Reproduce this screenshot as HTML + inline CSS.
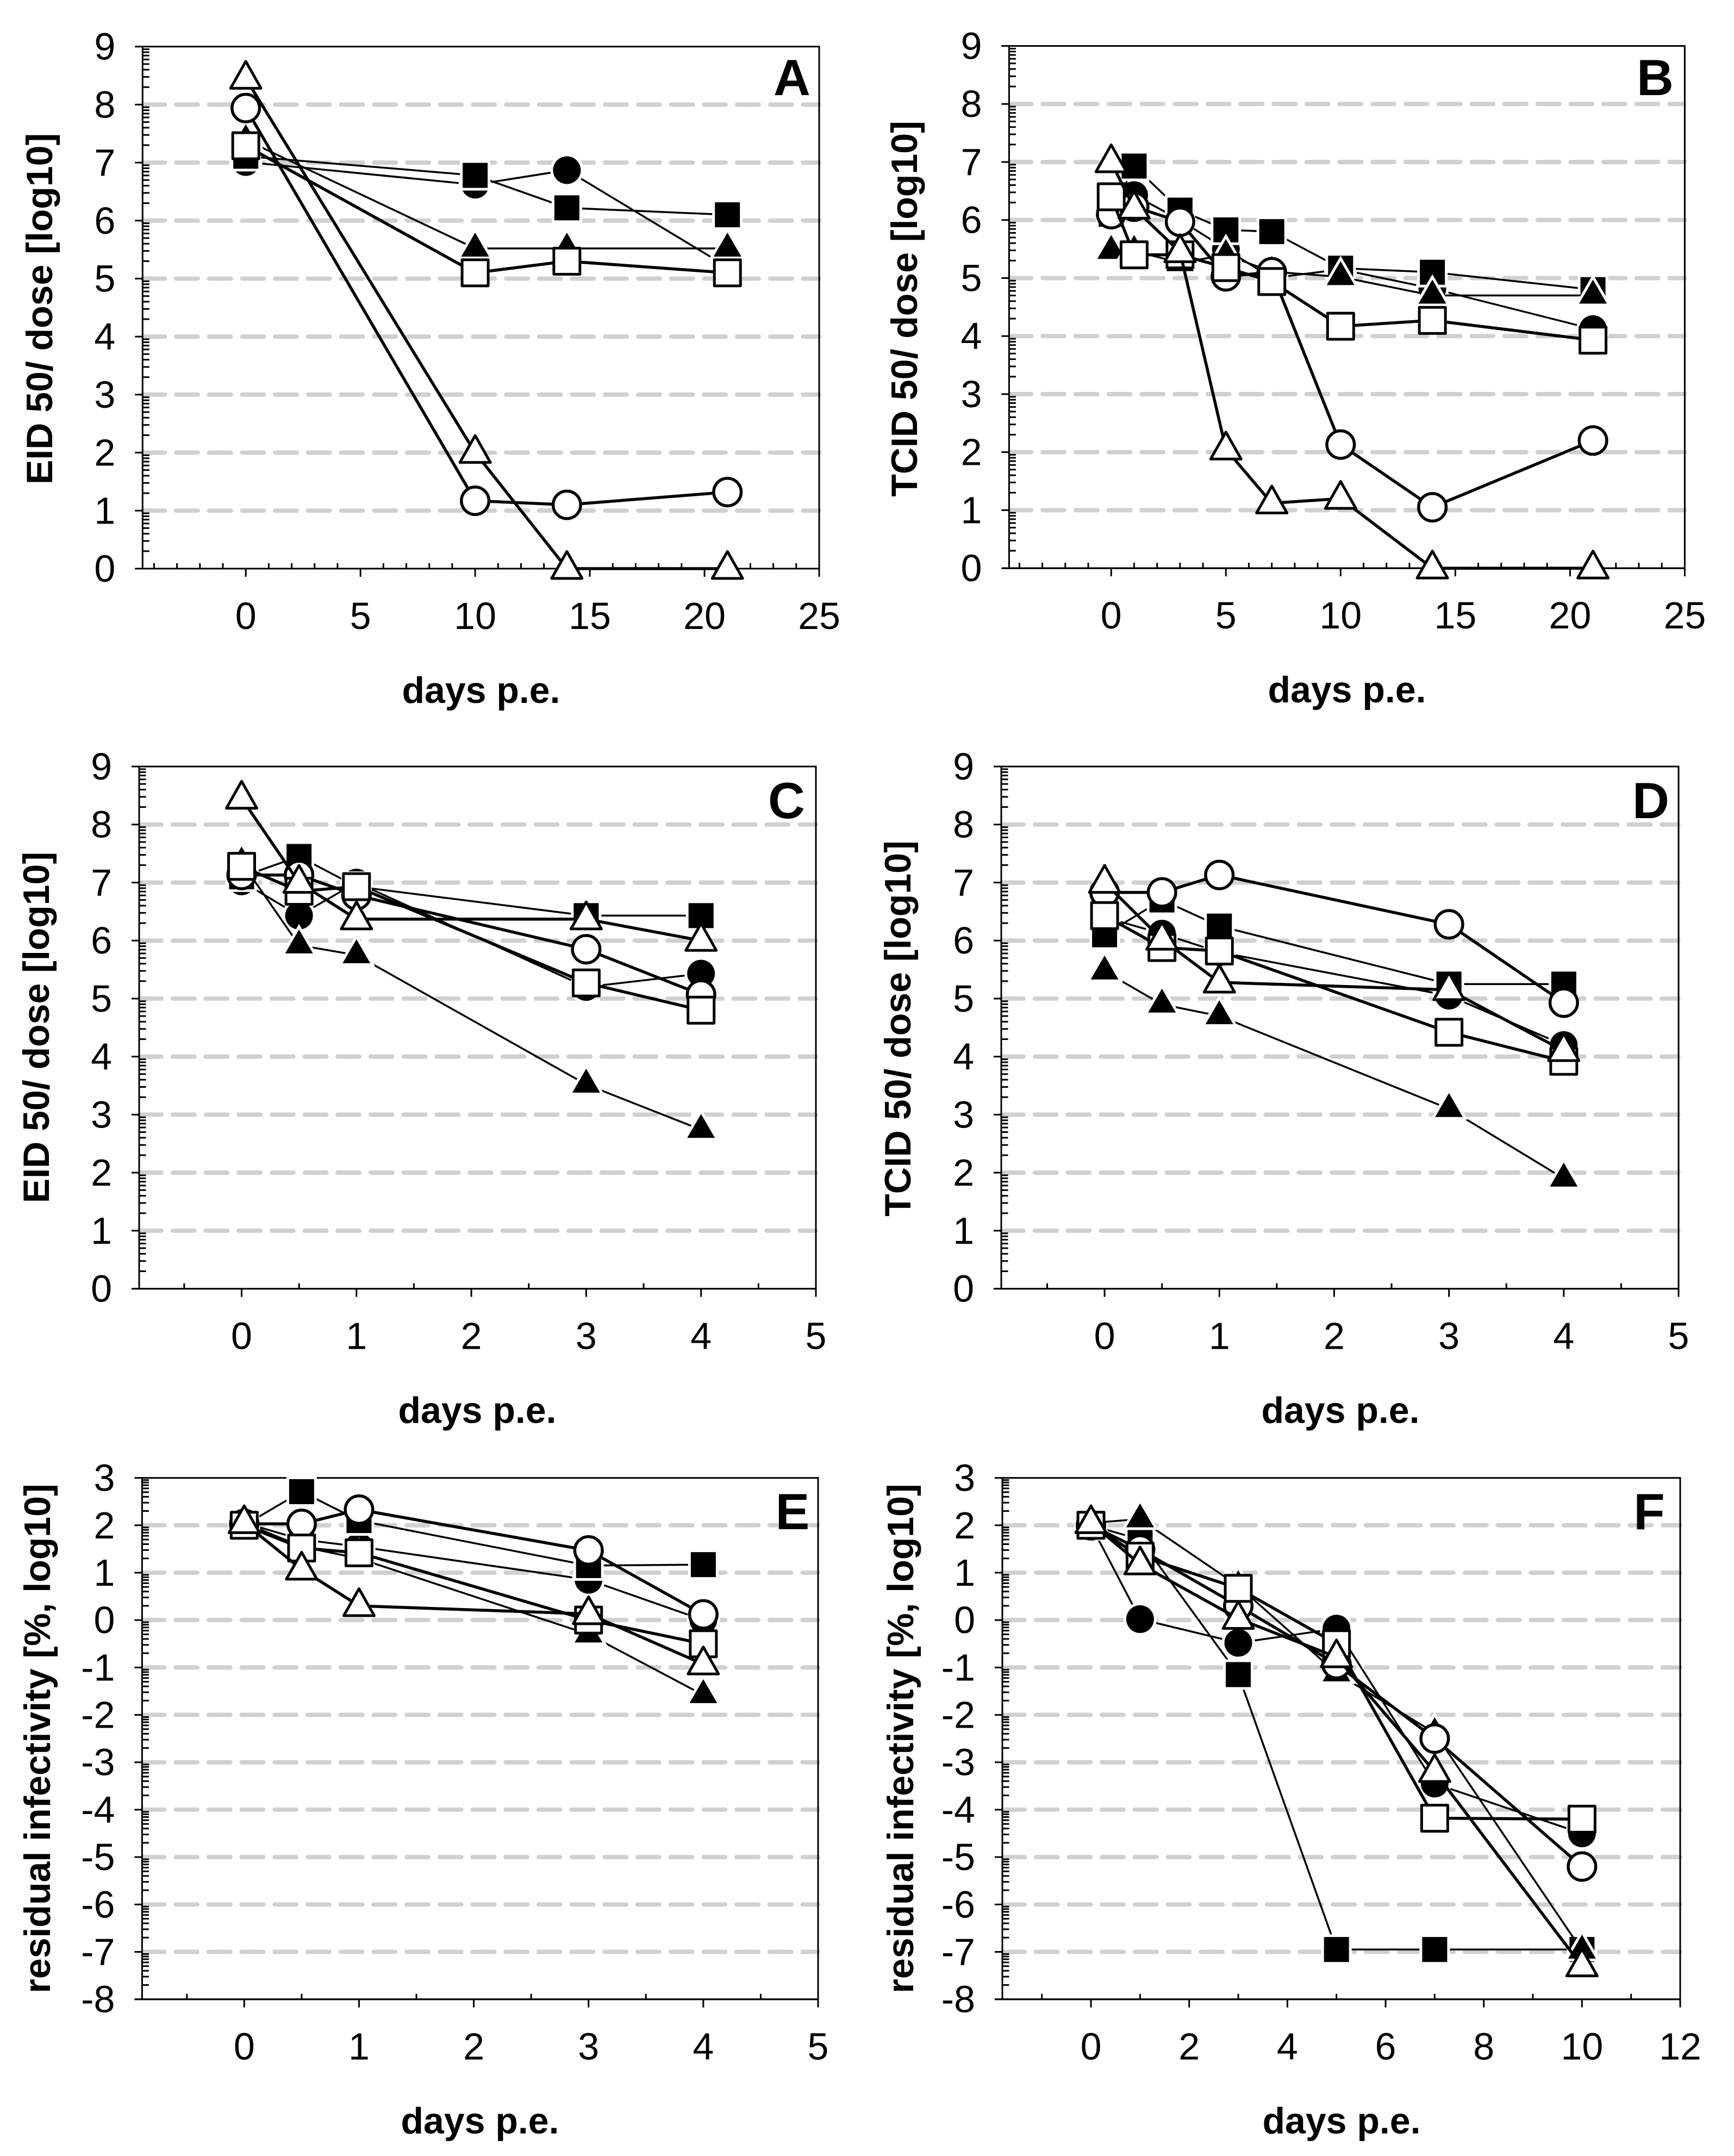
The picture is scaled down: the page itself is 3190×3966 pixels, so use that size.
<!DOCTYPE html>
<html lang="en">
<head>
<meta charset="utf-8">
<title>Infectivity decay panels A–F</title>
<style>
html,body{margin:0;padding:0;background:#fff;}
svg{display:block;font-family:"Liberation Sans",Arial,sans-serif;}
</style>
</head>
<body>
<svg id="figure" xmlns="http://www.w3.org/2000/svg" width="3190" height="3966" viewBox="0 0 3190 3966"></svg>
<script>
// Panel A
const aDays=[0,10,14,21];
const aFilledCircle=[7.01,6.62,6.87,5.2];
const aFilledSquare=[7.11,6.78,6.22,6.1];
const aFilledTriangle=[7.39,5.52,5.52,5.52];
const aOpenCircle=[7.94,1.17,1.1,1.32];
const aOpenSquare=[7.29,5.1,5.3,5.1];
const aOpenTriangle=[8.45,2.0,0,0];
// Panel B
const bDays=[0,1,3,5,7,10,14,21];
const bFilledCircle=[6.3,6.43,6.0,5.5,5.0,5.15,4.82,4.12];
const bFilledSquare=[6.1,6.93,6.17,5.83,5.8,5.17,5.1,4.8];
const bFilledTriangle=[5.47,5.47,5.26,5.4,5.11,5.02,4.7,4.7];
const bOpenCircle=[6.1,6.23,5.97,5.03,5.1,2.13,1.05,2.2];
const bOpenSquare=[6.4,5.4,5.4,5.18,4.94,4.17,4.27,3.93];
const bOpenTriangle=[7.0,6.2,5.45,2.05,1.12,1.2,0,0];
// Panel C
const cDays=[0,0.5,1,3,4];
const cFilledCircle=[7.02,6.43,7.0,5.2,5.43];
const cFilledSquare=[7.1,7.45,6.93,6.43,6.43];
const cFilledTriangle=[7.35,5.92,5.75,3.52,2.74];
const cOpenCircle=[7.13,7.13,6.78,5.85,5.07];
const cOpenSquare=[7.28,6.85,6.93,5.27,4.8];
const cOpenTriangle=[8.45,7.0,6.37,6.37,6.0];
// Panel D
const dDays=[0,0.5,1,3,4];
const dFilledCircle=[6.4,6.12,5.8,5.05,4.2];
const dFilledSquare=[6.1,6.7,6.25,5.25,5.25];
const dFilledTriangle=[5.47,4.9,4.7,3.1,1.9];
const dOpenCircle=[6.83,6.83,7.13,6.28,4.93];
const dOpenSquare=[6.43,5.88,5.82,4.42,3.92];
const dOpenTriangle=[7.0,6.02,5.28,5.15,4.1];
// Panel E
const eDays=[0,0.5,1,3,4];
const eFilledCircle=[2.05,1.7,1.55,0.85,0.0];
const eFilledSquare=[2.0,2.71,2.1,1.15,1.17];
const eFilledTriangle=[2.05,1.55,1.3,-0.3,-1.58];
const eOpenCircle=[2.03,2.03,2.33,1.47,0.12];
const eOpenSquare=[2.0,1.52,1.42,0.0,-0.5];
const eOpenTriangle=[2.05,1.07,0.3,0.13,-0.93];
// Panel F
const fDays=[0,1,3,5,7,10];
const fFilledCircle=[2.0,0.02,-0.48,-0.18,-3.45,-4.5];
const fFilledSquare=[2.0,1.7,-1.15,-6.95,-6.95,-6.95];
const fFilledTriangle=[2.05,2.13,0.72,-1.12,-2.38,-6.97];
const fOpenCircle=[2.0,1.49,0.3,-0.93,-2.5,-5.2];
const fOpenSquare=[2.0,1.35,0.67,-0.5,-4.18,-4.2];
const fOpenTriangle=[2.05,1.18,0.03,-0.78,-3.2,-7.3];
// Axis tick labels
const xTicksLong=[0,5,10,15,20,25];
const xTicksShort=[0,1,2,3,4,5];
const xTicksF=[0,2,4,6,8,10,12];
const yTicksTiter=[0,1,2,3,4,5,6,7,8,9];
const yTicksResidual=[-8,-7,-6,-5,-4,-3,-2,-1,0,1,2,3];
const yGridTiter=[1,2,3,4,5,6,7,8];
const yGridResidual=[-7,-6,-5,-4,-3,-2,-1,0,1,2];

const NS='http://www.w3.org/2000/svg';
const figure=document.getElementById('figure');

function make(tag,attrs,parent){
  const node=document.createElementNS(NS,tag);
  for(const key in attrs){node.setAttribute(key,attrs[key]);}
  parent.appendChild(node);
  return node;
}

function drawMarker(kind,px,py,parent,label){
  let mark;
  if(kind==='filled-circle'){
    mark=make('circle',{cx:px,cy:py,r:25.5,fill:'#000',stroke:'#fff','stroke-width':10,'paint-order':'stroke'},parent);
  }else if(kind==='filled-square'){
    mark=make('rect',{x:px-23,y:py-23,width:46,height:46,fill:'#000',stroke:'#fff','stroke-width':10,'paint-order':'stroke'},parent);
  }else if(kind==='filled-triangle'){
    mark=make('polygon',{points:(px)+','+(py-29)+' '+(px+25.5)+','+(py+15)+' '+(px-25.5)+','+(py+15),fill:'#000',stroke:'#fff','stroke-width':10,'paint-order':'stroke','stroke-linejoin':'miter'},parent);
  }else if(kind==='open-circle'){
    mark=make('circle',{cx:px,cy:py,r:25.3,fill:'#fff',stroke:'#000','stroke-width':5.5},parent);
  }else if(kind==='open-square'){
    mark=make('rect',{x:px-24,y:py-24,width:48,height:48,fill:'#fff',stroke:'#000','stroke-width':5,'stroke-linejoin':'round'},parent);
  }else{
    mark=make('polygon',{points:(px)+','+(py-31.5)+' '+(px+28)+','+(py+18)+' '+(px-28)+','+(py+18),fill:'#fff',stroke:'#000','stroke-width':5,'stroke-linejoin':'round'},parent);
  }
  
  
}

function drawPanel(cfg){
  const g=make('g',{},figure);
  
  

  const xUnit=(cfg.right-cfg.left)/(cfg.xMax-cfg.xMin);
  const yUnit=(cfg.bottom-cfg.top)/(cfg.yMax-cfg.yMin);
  const xScale=v=>cfg.left+(v-cfg.xMin)*xUnit;
  const yScale=v=>cfg.bottom-(v-cfg.yMin)*yUnit;

  // gridlines
  cfg.grid.forEach(v=>{
    const gl=make('line',{x1:cfg.left+1,x2:cfg.right,y1:yScale(v),y2:yScale(v),stroke:'#d0d0d0','stroke-width':8,'stroke-linecap':'round','stroke-dasharray':'40 20.7'},g);
    
    
  });

  // frame
  const frame=make('rect',{x:cfg.left,y:cfg.top,width:cfg.right-cfg.left,height:cfg.bottom-cfg.top,fill:'none',stroke:'#000','stroke-width':3},g);
  
  
  const xAxis=make('line',{x1:cfg.left-14,x2:cfg.right,y1:cfg.bottom,y2:cfg.bottom,stroke:'#000','stroke-width':3},g);
  
  

  // y ticks and labels
  cfg.yTicks.forEach(v=>{
    const py=yScale(v);
    const tick=make('line',{x1:cfg.left-14,x2:cfg.left,y1:py,y2:py,stroke:'#000','stroke-width':3},g);
    
    
    const label=make('text',{x:cfg.left-50,y:py+24,'text-anchor':'end','font-size':70,fill:'#000'},g);
    label.textContent=String(v);
    
    
    if(v<cfg.yMax){
      for(let k=2;k<=9;k++){
        const my=yScale(v+Math.log10(k));
        const minor=make('line',{x1:cfg.left,x2:cfg.left+12.5,y1:my,y2:my,stroke:'#000','stroke-width':3},g);
        
        
      }
    }
  });

  // x ticks and labels
  cfg.xTicks.forEach(v=>{
    const px=xScale(v);
    const tick=make('line',{x1:px,x2:px,y1:cfg.bottom,y2:cfg.bottom+15,stroke:'#000','stroke-width':3},g);
    
    
    const label=make('text',{x:px,y:cfg.bottom+111,'text-anchor':'middle','font-size':70,fill:'#000'},g);
    label.textContent=String(v);
    
    
  });
  const step=cfg.xTicks[1]-cfg.xTicks[0];
  for(let v=cfg.xTicks[0]-cfg.xMinorStep;v>cfg.xMin;v-=cfg.xMinorStep){
    const minor=make('line',{x1:xScale(v),x2:xScale(v),y1:cfg.bottom,y2:cfg.bottom-10,stroke:'#000','stroke-width':3},g);
    
    
  }
  for(let v=cfg.xTicks[0]+cfg.xMinorStep;v<cfg.xMax;v+=cfg.xMinorStep){
    if(Math.abs(v/step-Math.round(v/step))<1e-6){continue;}
    const minor=make('line',{x1:xScale(v),x2:xScale(v),y1:cfg.bottom,y2:cfg.bottom-10,stroke:'#000','stroke-width':3},g);
    
    
  }

  // series (drawn bottom to top)
  cfg.series.forEach(s=>{
    const sg=make('g',{},g);
    
    
    const pts=s.values.map((v,i)=>xScale(cfg.days[i])+','+yScale(v)).join(' ');
    const thick=s.kind.indexOf('open')===0;
    const path=make('polyline',{points:pts,fill:'none',stroke:'#000','stroke-width':thick?5.5:3.5,'stroke-linejoin':'round'},sg);
    
    
    s.values.forEach((v,i)=>{
      drawMarker(s.kind,xScale(cfg.days[i]),yScale(v),sg,s.kind+'-point');
    });
  });

  // titles
  const xTitle=make('text',{x:cfg.xTitleX,y:cfg.bottom+247,'text-anchor':'middle','font-size':68,'font-weight':'bold',fill:'#000'},g);
  xTitle.textContent='days p.e.';
  
  
  const yTitle=make('text',{x:0,y:0,transform:'translate('+cfg.yTitleX+' '+cfg.yTitleY+') rotate(-90)','text-anchor':'middle','font-size':68,'font-weight':'bold',fill:'#000'},g);
  yTitle.textContent=cfg.yTitle;
  
  
  const letter=make('text',{x:cfg.letterX,y:cfg.letterY,'text-anchor':'middle','font-size':94,'font-weight':'bold',fill:'#000'},g);
  letter.textContent=cfg.id;
  
  
}

function seriesOf(fc,fs,ft,oc,os,ot){
  return [
    {kind:'filled-circle',values:fc},
    {kind:'filled-square',values:fs},
    {kind:'filled-triangle',values:ft},
    {kind:'open-circle',values:oc},
    {kind:'open-square',values:os},
    {kind:'open-triangle',values:ot}
  ];
}

drawPanel({id:'A',left:262.3,right:1507,top:85.7,bottom:1046,xMin:-4.5,xMax:25,yMin:0,yMax:9,
  days:aDays,xTicks:xTicksLong,xMinorStep:1,yTicks:yTicksTiter,grid:yGridTiter,
  series:seriesOf(aFilledCircle,aFilledSquare,aFilledTriangle,aOpenCircle,aOpenSquare,aOpenTriangle),
  yTitle:'EID 50/ dose [log10]',yTitleX:96,yTitleY:568,xTitleX:885,letterX:1457,letterY:175});
drawPanel({id:'B',left:1856.4,right:3099.4,top:84.5,bottom:1045.2,xMin:-4.45,xMax:25,yMin:0,yMax:9,
  days:bDays,xTicks:xTicksLong,xMinorStep:1,yTicks:yTicksTiter,grid:yGridTiter,
  series:seriesOf(bFilledCircle,bFilledSquare,bFilledTriangle,bOpenCircle,bOpenSquare,bOpenTriangle),
  yTitle:'TCID 50/ dose [log10]',yTitleX:1687,yTitleY:568,xTitleX:2478,letterX:3045,letterY:175});
drawPanel({id:'C',left:256,right:1501,top:1410,bottom:2370.6,xMin:-0.892,xMax:5,yMin:0,yMax:9,
  days:cDays,xTicks:xTicksShort,xMinorStep:0.5,yTicks:yTicksTiter,grid:yGridTiter,
  series:seriesOf(cFilledCircle,cFilledSquare,cFilledTriangle,cOpenCircle,cOpenSquare,cOpenTriangle),
  yTitle:'EID 50/ dose [log10]',yTitleX:90,yTitleY:1890,xTitleX:878,letterX:1447,letterY:1505});
drawPanel({id:'D',left:1842,right:3088,top:1410,bottom:2370.6,xMin:-0.9,xMax:5,yMin:0,yMax:9,
  days:dDays,xTicks:xTicksShort,xMinorStep:0.5,yTicks:yTicksTiter,grid:yGridTiter,
  series:seriesOf(dFilledCircle,dFilledSquare,dFilledTriangle,dOpenCircle,dOpenSquare,dOpenTriangle),
  yTitle:'TCID 50/ dose [log10]',yTitleX:1675,yTitleY:1892,xTitleX:2466,letterX:3037,letterY:1505});
drawPanel({id:'E',left:261.4,right:1505,top:2718.6,bottom:3677.7,xMin:-0.89,xMax:5,yMin:-8,yMax:3,
  days:eDays,xTicks:xTicksShort,xMinorStep:0.5,yTicks:yTicksResidual,grid:yGridResidual,
  series:seriesOf(eFilledCircle,eFilledSquare,eFilledTriangle,eOpenCircle,eOpenSquare,eOpenTriangle),
  yTitle:'residual infectivity [%, log10]',yTitleX:92,yTitleY:3198,xTitleX:883,letterX:1458,letterY:2813});
drawPanel({id:'F',left:1844,right:3091,top:2718.6,bottom:3677.7,xMin:-1.805,xMax:12,yMin:-8,yMax:3,
  days:fDays,xTicks:xTicksF,xMinorStep:1,yTicks:yTicksResidual,grid:yGridResidual,
  series:seriesOf(fFilledCircle,fFilledSquare,fFilledTriangle,fOpenCircle,fOpenSquare,fOpenTriangle),
  yTitle:'residual infectivity [%, log10]',yTitleX:1680,yTitleY:3198,xTitleX:2468,letterX:3034,letterY:2813});
</script>
</body>
</html>
